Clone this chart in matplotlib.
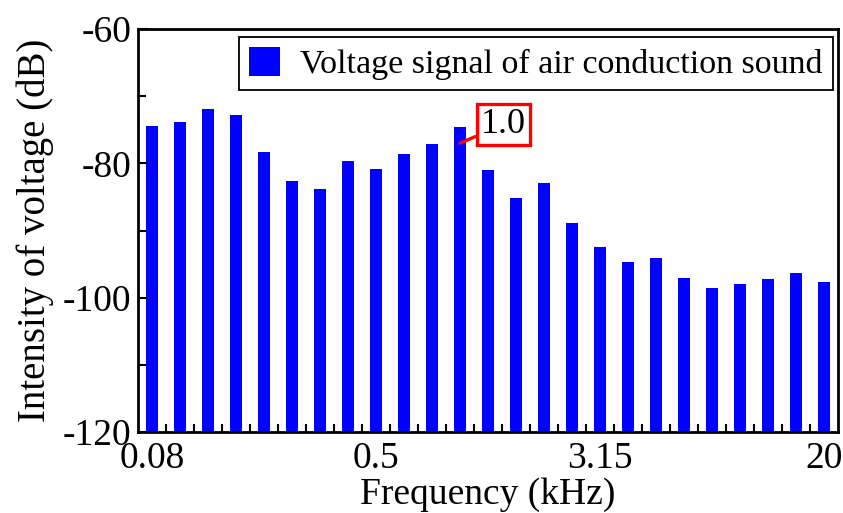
import matplotlib.pyplot as plt
import numpy as np

plt.rcParams["font.family"] = ["Liberation Serif", "DejaVu Serif"]
plt.rcParams["axes.unicode_minus"] = False

# 1/3-octave band centres (kHz) and measured levels (dB)
bands = ["0.08", "0.1", "0.125", "0.16", "0.2", "0.25", "0.315", "0.4", "0.5",
         "0.63", "0.8", "1.0", "1.25", "1.6", "2.0", "2.5", "3.15", "4", "5",
         "6.3", "8", "10", "12.5", "16", "20"]
levels = [-74.5, -73.9, -71.9, -72.8, -78.3, -82.7, -83.8, -79.7, -80.9,
          -78.6, -77.1, -74.6, -81.0, -85.1, -83.0, -88.9, -92.4, -94.7,
          -94.1, -97.0, -98.5, -97.9, -97.2, -96.3, -97.6]
shown_ticks = ["0.08", "0.5", "3.15", "20"]
peak_band = "1.0"

y_floor = -120
x = np.arange(len(bands))

fig = plt.figure(figsize=(8.43, 5.13), dpi=100)
ax = fig.add_axes([138 / 843, 81 / 513, 700 / 843, 403 / 513])

# bars rise from the bottom of the axis
ax.bar(x, np.array(levels) - y_floor, width=0.4, bottom=y_floor,
       color="#0000ff", label="Voltage signal of air conduction sound")
ax.set_ylim(y_floor, -60)
ax.set_xlim(-0.5, len(bands) - 0.5)

ax.set_yticks([-120, -100, -80, -60])
ax.set_yticks([-110, -90, -70], minor=True)
ax.set_xticks([bands.index(b) for b in shown_ticks])
ax.set_xticklabels(shown_ticks)
ax.set_xticks(x[:-1] + 0.5, minor=True)

ax.tick_params(axis="both", which="major", direction="in", length=7,
               width=1.5, labelsize=27, pad=5)
ax.tick_params(axis="x", which="major", length=0, pad=7)
ax.tick_params(axis="both", which="minor", direction="in", length=6,
               width=1.5)
for s in ax.spines.values():
    s.set_linewidth(2)

ax.set_xlabel("Frequency (kHz)", fontsize=27, labelpad=1)
ax.set_ylabel("Intensity of voltage (dB)", fontsize=28, labelpad=6)

leg = ax.legend(loc="upper right", fontsize=24.5, frameon=True,
                fancybox=False, framealpha=1, edgecolor="black",
                handlelength=0.9, handleheight=0.9, borderpad=0.3,
                handletextpad=0.6, borderaxespad=0,
                bbox_to_anchor=(0.993, 0.98))
leg.get_frame().set_linewidth(1.3)

i = bands.index(peak_band)
ax.annotate(peak_band, xy=(x[i], levels[i] - 2.4),
            xytext=(x[i] + 1.55, levels[i] + 0.4),
            fontsize=26, ha="center", va="center", color="black",
            bbox=dict(boxstyle="square,pad=0.12", fc="white", ec="red",
                      lw=2.4),
            arrowprops=dict(arrowstyle="-", color="red", lw=2.4,
                            shrinkA=0, shrinkB=0))

fig.savefig("out.png", dpi=100)
